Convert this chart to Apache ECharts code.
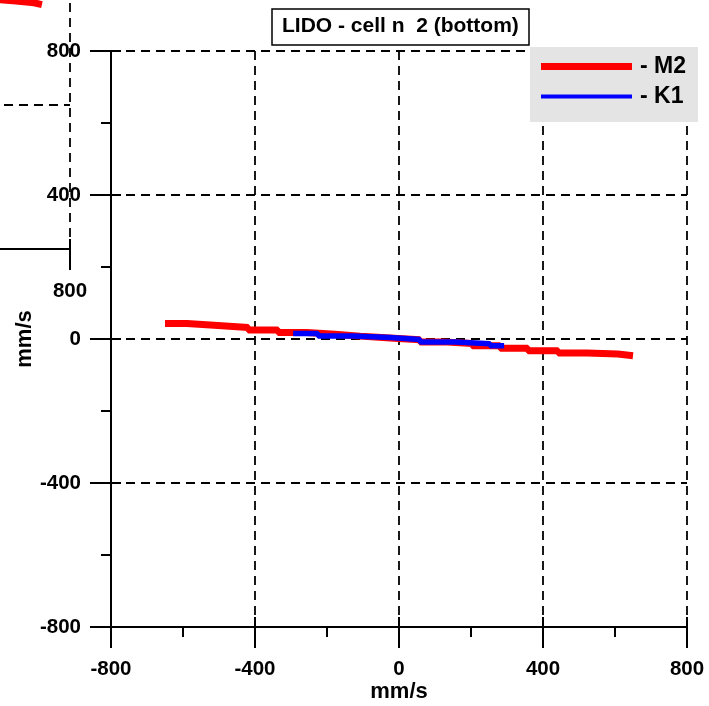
<!DOCTYPE html>
<html><head><meta charset="utf-8">
<script src="https://cdn.jsdelivr.net/npm/echarts@6/dist/echarts.min.js"></script>
<style>html,body{margin:0;padding:0;background:#fff}#c{width:709px;height:706px}</style>
</head><body><div id="c"></div>
<script>
// ---- data ----
const titleText = 'LIDO - cell n  2 (bottom)';
const axisName = 'mm/s';
const tickValues = [-800, -400, 0, 400, 800];
const seriesNames = ['M2', 'K1'];
// M2 (red) stepped trace
const m2X = [-650, -589, -503, -419, -336, -256, -178, -108, -25, 58, 122, 203, 281, 358, 442, 522, 608, 650];
const m2Y = [43, 37.5, 32, 25, 18, 13.5, 8, 3, -2, -8, -12.5, -18.6, -26, -32.5, -39, -41.7, -46.7, -46.7];
// K1 (blue) stepped trace
const k1X = [-294, -225, -128, -25, 58, 156, 253, 292];
const k1Y = [15, 8, 4, -1.5, -8.3, -13, -19, -19];
// fragment of a neighbouring panel (red trace) visible at the top-left
const prevX = [560, 600, 650, 700, 722];
const prevY = [-107, -111, -116, -121, -121];

const FONT = '"Liberation Sans", Arial, sans-serif';
const pairs = (xs, ys) => xs.map((x, i) => [x, ys[i]]);
const axMin = tickValues[0], axMax = tickValues[tickValues.length - 1];
const axInterval = tickValues[1] - tickValues[0];
const black = '#000';

function mainAxis(gridIndex, isX) {
  return {
    type: 'value', gridIndex, min: axMin, max: axMax, interval: axInterval,
    position: isX ? 'bottom' : 'left',
    name: gridIndex === 0 ? axisName : '',
    nameLocation: 'middle',
    nameMoveOverlap: false,
    nameGap: isX ? 54 : 75,
    nameRotate: isX ? 0 : 90,
    nameTextStyle: { fontFamily: FONT, fontSize: 22, fontWeight: 'bold', color: black },
    axisLine: { show: true, onZero: false, lineStyle: { color: black, width: 2 } },
    axisTick: { show: true, inside: false, length: 21, lineStyle: { color: black, width: 2 } },
    minorTick: { show: true, splitNumber: 2, length: 10, lineStyle: { color: black, width: 2 } },
    axisLabel: { show: true, margin: isX ? 32 : 30, showMinLabel: true, showMaxLabel: true,
      fontFamily: FONT, fontSize: 20.5, fontWeight: 'bold', color: black },
    splitLine: { show: true, lineStyle: { color: black, width: 1.8, type: [9, 6] } },
    minorSplitLine: { show: false }
  };
}
function innerAxis(gridIndex, isX) {
  return {
    type: 'value', gridIndex, min: axMin, max: axMax, interval: axInterval,
    position: isX ? 'bottom' : 'left',
    axisLine: { show: false, onZero: false },
    axisTick: { show: true, inside: true, length: 10, lineStyle: { color: black, width: 2 } },
    axisLabel: { show: false },
    splitLine: { show: false }
  };
}
const legendText = { fontFamily: FONT, fontSize: 23, fontWeight: 'bold', color: black, padding: [0, 0, 0, 3] };

const chart = echarts.init(document.getElementById('c'), null, { renderer: 'canvas' });
chart.setOption({
  backgroundColor: '#fff',
  animation: false,
  title: {
    text: titleText, left: 272, top: 9, padding: [7, 10, 8, 10],
    borderColor: black, borderWidth: 1.5, backgroundColor: '#fff',
    textStyle: { fontFamily: FONT, fontSize: 21, fontWeight: 'bold', color: black }
  },
  graphic: [{
    type: 'rect', z: 3, silent: true,
    shape: { x: 530, y: 47, width: 168, height: 75 },
    style: { fill: '#e4e4e4' }
  }],
  legend: [
    { data: [seriesNames[0]], left: 541, top: 55, icon: 'rect', itemWidth: 91, itemHeight: 7,
      padding: 0, formatter: '- {name}', z: 6, textStyle: legendText },
    { data: [seriesNames[1]], left: 541, top: 85, icon: 'rect', itemWidth: 91, itemHeight: 4,
      padding: 0, formatter: '- {name}', z: 6, textStyle: legendText }
  ],
  grid: [
    { left: 111, top: 51, width: 576, height: 576, containLabel: false, outerBoundsMode: 'none' },
    { left: -506, top: -327, width: 576, height: 576, containLabel: false, outerBoundsMode: 'none' }
  ],
  xAxis: [mainAxis(0, true), innerAxis(0, true), mainAxis(1, true), innerAxis(1, true)],
  yAxis: [mainAxis(0, false), innerAxis(0, false), mainAxis(1, false), innerAxis(1, false)],
  series: [
    { name: seriesNames[0], type: 'line', xAxisIndex: 0, yAxisIndex: 0, step: 'end',
      showSymbol: false, color: '#ff0000', lineStyle: { color: '#ff0000', width: 7 },
      data: pairs(m2X, m2Y), z: 2 },
    { name: seriesNames[1], type: 'line', xAxisIndex: 0, yAxisIndex: 0, step: 'end',
      showSymbol: false, color: '#0000ff', lineStyle: { color: '#0000ff', width: 5.5 },
      data: pairs(k1X, k1Y), z: 3 },
    { name: 'prev', type: 'line', xAxisIndex: 2, yAxisIndex: 2, step: 'end',
      showSymbol: false, color: '#ff0000', lineStyle: { color: '#ff0000', width: 7 },
      data: pairs(prevX, prevY), z: 2 }
  ]
});
</script></body></html>
